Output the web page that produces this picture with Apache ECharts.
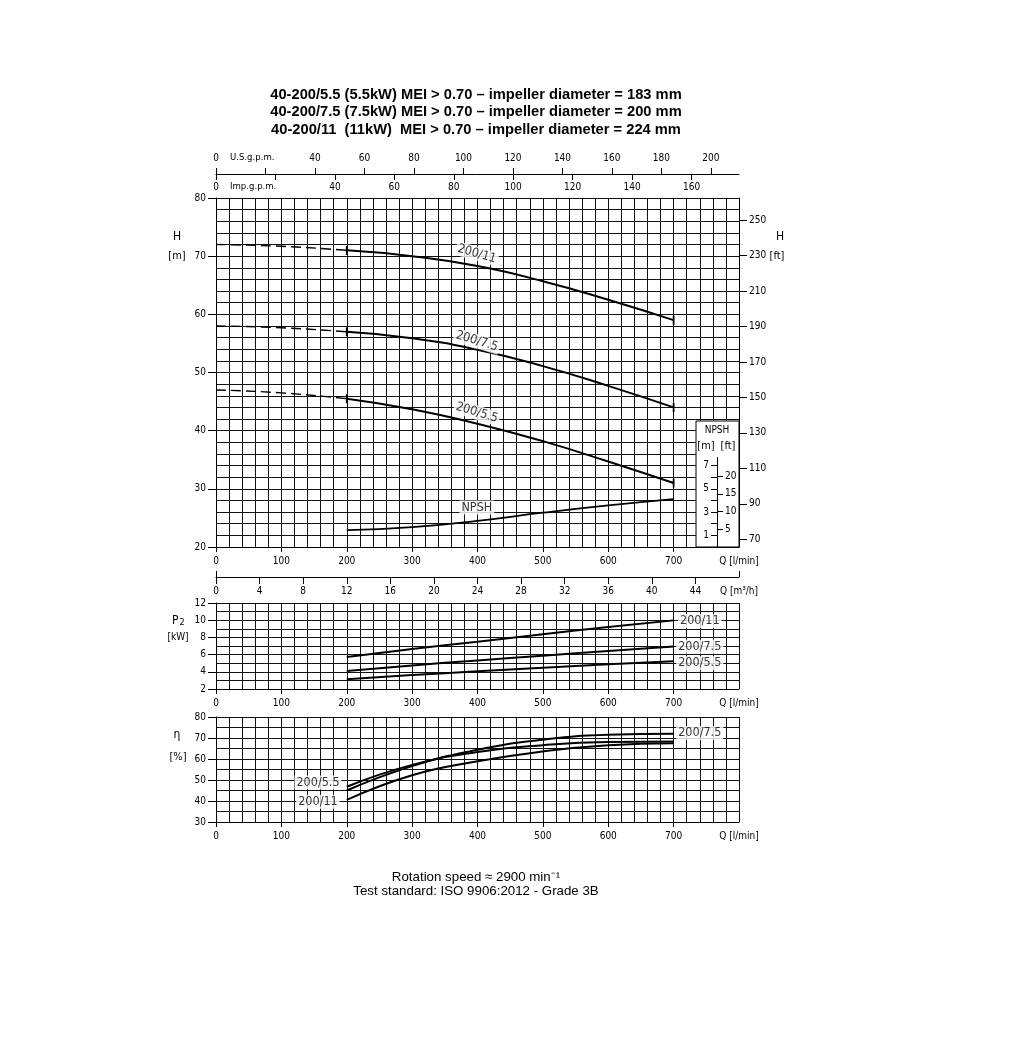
<!DOCTYPE html>
<html><head><meta charset="utf-8">
<script src="https://cdn.jsdelivr.net/npm/echarts@6/dist/echarts.min.js"></script>
<style>html,body{margin:0;padding:0;background:#fff}#c{width:1014px;height:1060px}</style>
</head><body><div id="c"></div>
<script>
// ---------- data ----------
const flowQ = [0, 100, 200, 300, 400, 500, 600, 700];          // l/min
const head_200_11 = [72.0, 71.7, 71.0, 70.0, 68.3, 65.7, 62.5, 59.0];
const head_200_75 = [58.0, 57.7, 57.0, 55.9, 53.9, 51.1, 47.7, 44.0];
const head_200_55 = [47.0, 46.5, 45.5, 43.7, 41.2, 38.2, 34.7, 31.0];
const dutyQ = [200, 300, 400, 500, 600, 700];                  // l/min
const npsh_m = [1.45, 1.7, 2.25, 2.95, 3.58, 4.12];
const p2_200_11 = [5.73, 6.64, 7.5, 8.37, 9.2, 9.98];
const p2_200_75 = [4.09, 4.74, 5.32, 5.88, 6.43, 6.94];
const p2_200_55 = [3.14, 3.62, 4.06, 4.48, 4.88, 5.23];
const eff_200_11 = [40.5, 52.3, 58.9, 63.6, 66.5, 67.5];
const eff_200_75 = [45.0, 56.6, 64.4, 69.2, 71.5, 72.0];
const eff_200_55 = [46.8, 57.2, 63.3, 66.6, 68.1, 68.3];

// ---------- tick labels ----------
const qLabels = [0, 100, 200, 300, 400, 500, 600, 700, 800];
const qTicks = [0, 100, 200, 300, 400, 500, 600, 700];
const m3hLabels = [0, 4, 8, 12, 16, 20, 24, 28, 32, 36, 40, 44, 48];
const m3hTicks = [0, 4, 8, 12, 16, 20, 24, 28, 32, 36, 40, 44];
const usGpmLabels = [0, 40, 60, 80, 100, 120, 140, 160, 180, 200];
const usGpmTicks = [0, 20, 40, 60, 80, 100, 120, 140, 160, 180, 200];
const impGpmLabels = [0, 40, 60, 80, 100, 120, 140, 160];
const impGpmTicks = [0, 20, 40, 60, 80, 100, 120, 140, 160];
const hLabels = [20, 30, 40, 50, 60, 70, 80];
const ftLabels = [70, 90, 110, 130, 150, 170, 190, 210, 230, 250];
const p2Labels = [2, 4, 6, 8, 10, 12];
const effLabels = [30, 40, 50, 60, 70, 80];
const npshMTicks = [1, 2, 3, 4, 5, 6, 7];
const npshMLabels = [1, 3, 5, 7];
const npshFtLabels = [5, 10, 15, 20];

// ---------- unit conversions ----------
const L_PER_USGAL = 3.785411784, L_PER_IMPGAL = 4.54609, FT_PER_M = 1 / 0.3048, LPM_PER_M3H = 1000 / 60;
const Q_MAX = 800;

const FONT = "'Liberation Sans Narrow','DejaVu Sans Condensed','Liberation Sans',Arial,sans-serif";
const TFONT = "'Liberation Sans',Arial,sans-serif";
const lab = (extra) => Object.assign({color: '#000', fontSize: 10, fontFamily: FONT}, extra);
const blackLine = {show: true, onZero: false, lineStyle: {color: '#000', width: 1}};
const noLine = {show: false, onZero: false};
const gridLine = {show: true, lineStyle: {color: '#111', width: 1}};
const tick = (len, vals, inside) => ({show: true, length: len, inside: !!inside, customValues: vals, lineStyle: {color: '#000', width: 1}});
const qFmt = v => v === Q_MAX ? 'Q [l/min]' : String(v);

// grids
const G = {
  H:   {left: 216, top: 198, width: 523, height: 349},
  NP:  {left: 717, top: 457.5, width: 1, height: 89.5},
  P2:  {left: 216, top: 603, width: 523, height: 86},
  EFF: {left: 216, top: 717, width: 523, height: 105}
};
const hMin = 20, hMax = 80;
const hPxPerM = G.H.height / (hMax - hMin);
const npshScaleMax = (hMax - hMin) / 2;           // NPSH drawn at 2x vertical scale
const npshAxisMax = G.NP.height / (2 * hPxPerM);

function qAxis(gridIndex) {
  return {type: 'value', gridIndex, min: 0, max: Q_MAX, position: 'bottom',
    axisLine: blackLine, splitLine: {show: false}, axisTick: tick(5, qTicks),
    axisLabel: lab({customValues: qLabels, formatter: qFmt, margin: 9})};
}
function gridX(gridIndex) {
  return {type: 'value', gridIndex, min: 0, max: Q_MAX, interval: 20, position: 'bottom',
    axisLine: noLine, axisTick: {show: false}, axisLabel: {show: false}, splitLine: gridLine};
}
function gridY(gridIndex, min, max, interval) {
  return {type: 'value', gridIndex, min, max, interval, position: 'left',
    axisLine: noLine, axisTick: {show: false}, axisLabel: {show: false}, splitLine: gridLine};
}

const xAxes = [
  qAxis(0),                                                                  // 0 l/min H
  {type: 'value', gridIndex: 0, position: 'bottom', offset: 30, min: 0, max: Q_MAX / LPM_PER_M3H,
    axisLine: blackLine, splitLine: {show: false}, axisTick: tick(7, m3hTicks),
    axisLabel: lab({customValues: m3hLabels, margin: 9, formatter: v => v === 48 ? 'Q [m³/h]' : String(v)})},   // 1
  {type: 'value', gridIndex: 0, position: 'bottom', offset: 30, min: 0, max: Q_MAX / LPM_PER_M3H,
    axisLine: noLine, splitLine: {show: false}, axisLabel: {show: false},
    axisTick: tick(6, [0, Q_MAX / LPM_PER_M3H], true)},                     // 2
  {type: 'value', gridIndex: 0, position: 'top', offset: 24, min: 0, max: Q_MAX / L_PER_USGAL,
    axisLine: blackLine, splitLine: {show: false}, axisTick: tick(6, usGpmTicks),
    axisLabel: lab({customValues: usGpmLabels, margin: 11})},              // 3
  {type: 'value', gridIndex: 0, position: 'top', offset: 24, min: 0, max: Q_MAX / L_PER_IMPGAL,
    axisLine: noLine, splitLine: {show: false}, axisTick: tick(6, impGpmTicks, true),
    axisLabel: lab({inside: true, customValues: impGpmLabels, margin: 8})}, // 4
  {type: 'value', gridIndex: 1, show: false, min: 0, max: 1},              // 5
  qAxis(2),                                                                // 6
  qAxis(3),                                                                // 7
  gridX(0), gridX(2), gridX(3)                                             // 8,9,10 grid lines
];

const yAxes = [
  {type: 'value', gridIndex: 0, position: 'left', min: hMin, max: hMax,
    axisLine: blackLine, splitLine: {show: false}, axisTick: tick(8, hLabels),
    axisLabel: lab({customValues: hLabels, margin: 10})},                 // 0
  {type: 'value', gridIndex: 0, position: 'right', min: hMin * FT_PER_M, max: hMax * FT_PER_M,
    axisLine: blackLine, splitLine: {show: false}, axisTick: tick(8, ftLabels),
    axisLabel: lab({customValues: ftLabels, margin: 10})},                // 1
  {type: 'value', gridIndex: 0, show: false, position: 'left', min: 0, max: npshScaleMax, axisLine: noLine}, // 2 NPSH m
  {type: 'value', gridIndex: 1, position: 'left', min: 0, max: npshAxisMax, z: 50,
    axisLine: blackLine, splitLine: {show: false}, axisTick: tick(6, npshMTicks),
    axisLabel: lab({customValues: npshMLabels, margin: 8})},              // 3
  {type: 'value', gridIndex: 1, position: 'right', offset: -1, min: 0, max: npshAxisMax * FT_PER_M, z: 50,
    axisLine: noLine, splitLine: {show: false}, axisTick: tick(6, npshFtLabels),
    axisLabel: lab({customValues: npshFtLabels, margin: 8})},             // 4
  {type: 'value', gridIndex: 2, position: 'left', min: 2, max: 12,
    axisLine: blackLine, splitLine: {show: false}, axisTick: tick(8, p2Labels),
    axisLabel: lab({customValues: p2Labels, margin: 10})},                // 5
  {type: 'value', gridIndex: 3, position: 'left', min: 30, max: 80,
    axisLine: blackLine, splitLine: {show: false}, axisTick: tick(8, effLabels),
    axisLabel: lab({customValues: effLabels, margin: 10})},               // 6
  gridY(0, hMin, hMax, 2), gridY(2, 2, 12, 1), gridY(3, 30, 80, 5)       // 7,8,9 grid lines
];

const pair = (xs, ys) => xs.map((x, i) => [x, ys[i]]);
function base(xi, yi, data, extra) {
  return Object.assign({type: 'line', xAxisIndex: xi, yAxisIndex: yi, data, smooth: 0.5,
    showSymbol: false, symbol: 'none', silent: true, z: 3,
    lineStyle: {color: '#000', width: 2}}, extra);
}
function headSeries(ys) {
  const pts = flowQ.map((q, i) => [q, ys[i]]);
  const dashed = pts.filter(p => p[0] <= dutyQ[0]);
  const solidPts = pts.filter(p => p[0] >= dutyQ[0]);
  const solid = solidPts.map((p, i) => ({value: p,
    symbol: (i === 0 || i === solidPts.length - 1) ? 'rect' : 'none'}));
  return [
    base(0, 0, dashed, {lineStyle: {color: '#000', width: 1.4, type: [10, 5]}}),
    base(0, 0, solid, {showSymbol: true, symbol: 'rect', symbolSize: [1.8, 9], itemStyle: {color: '#000'}})
  ];
}
function labelSeries(xi, yi, items) {
  return {type: 'scatter', xAxisIndex: xi, yAxisIndex: yi, silent: true, z: 6,
    symbolSize: 1, itemStyle: {color: 'rgba(0,0,0,0)'},
    data: items.map(it => ({value: it.at, label: {show: true, position: 'inside', formatter: it.text,
      rotate: it.rot || 0, color: '#000', fontSize: 12.5, fontFamily: FONT,
      backgroundColor: '#fff', padding: [1, 2, 0, 2]}}))};
}

const series = [
  ...headSeries(head_200_11), ...headSeries(head_200_75), ...headSeries(head_200_55),
  base(0, 2, pair(dutyQ, npsh_m), {lineStyle: {color: '#000', width: 1.8}}),
  base(6, 5, pair(dutyQ, p2_200_11)), base(6, 5, pair(dutyQ, p2_200_75)), base(6, 5, pair(dutyQ, p2_200_55)),
  base(7, 6, pair(dutyQ, eff_200_11)), base(7, 6, pair(dutyQ, eff_200_75)), base(7, 6, pair(dutyQ, eff_200_55)),
  labelSeries(0, 0, [
    {text: '200/11', at: [399, 70.4], rot: -16},
    {text: '200/7.5', at: [399, 55.4], rot: -17},
    {text: '200/5.5', at: [399, 43.1], rot: -17}]),
  labelSeries(0, 2, [{text: 'NPSH', at: [399, 3.4]}]),
  labelSeries(6, 5, [
    {text: '200/11', at: [740, 9.9]}, {text: '200/7.5', at: [740, 6.9]}, {text: '200/5.5', at: [740, 5.0]}]),
  labelSeries(7, 6, [
    {text: '200/7.5', at: [740, 72.4]}, {text: '200/5.5', at: [156, 48.8]}, {text: '200/11', at: [156, 39.6]}])
];

function txt(x, y, text, opt) {
  return Object.assign({type: 'text', x, y, silent: true, z: 60,
    style: Object.assign({text, fill: '#000', font: '11px ' + FONT, textAlign: 'center', textVerticalAlign: 'middle'}, opt || {})});
}
const graphic = [
  txt(476, 95, '40-200/5.5 (5.5kW) MEI > 0.70 – impeller diameter = 183 mm', {font: 'bold 14.7px ' + TFONT}),
  txt(476, 112, '40-200/7.5 (7.5kW) MEI > 0.70 – impeller diameter = 200 mm', {font: 'bold 14.7px ' + TFONT}),
  txt(476, 130, '40-200/11  (11kW)  MEI > 0.70 – impeller diameter = 224 mm', {font: 'bold 14.7px ' + TFONT}),
  txt(230, 158, 'U.S.g.p.m.', {textAlign: 'left', font: '9.5px ' + FONT}),
  txt(230, 187, 'Imp.g.p.m.', {textAlign: 'left', font: '9.5px ' + FONT}),
  txt(177, 237, 'H', {font: '12px ' + FONT}), txt(177, 256, '[m]'),
  txt(780, 237, 'H', {font: '12px ' + FONT}), txt(777, 256, '[ft]'),
  {type: 'text', x: 172, y: 621, silent: true, z: 60, style: {text: '{p|P}{s|2}', textVerticalAlign: 'middle',
    rich: {p: {fontSize: 12, fontFamily: FONT, fill: '#000'}, s: {fontSize: 9, fontFamily: FONT, fill: '#000', padding: [4, 0, 0, 1]}}}},
  txt(178, 637, '[kW]', {font: '10px ' + FONT}),
  txt(177, 735, 'η', {font: '12px ' + FONT}), txt(178, 757, '[%]'),
  {type: 'rect', silent: true, z: 40, shape: {x: 696, y: 421, width: 43, height: 126},
    style: {fill: '#fff', stroke: '#000', lineWidth: 1}},
  txt(717, 430, 'NPSH', {font: '10px ' + FONT}),
  txt(706, 446, '[m]'), txt(728, 446, '[ft]'),
  txt(476, 877, 'Rotation speed ≈ 2900 min⁻¹', {font: '13.3px ' + TFONT}),
  txt(476, 891, 'Test standard: ISO 9906:2012 - Grade 3B', {font: '13.3px ' + TFONT})
];

const chart = echarts.init(document.getElementById('c'), null, {renderer: 'canvas'});
chart.setOption({
  animation: false, backgroundColor: '#fff',
  grid: [G.H, G.NP, G.P2, G.EFF],
  xAxis: xAxes, yAxis: yAxes, series, graphic
});
</script></body></html>
